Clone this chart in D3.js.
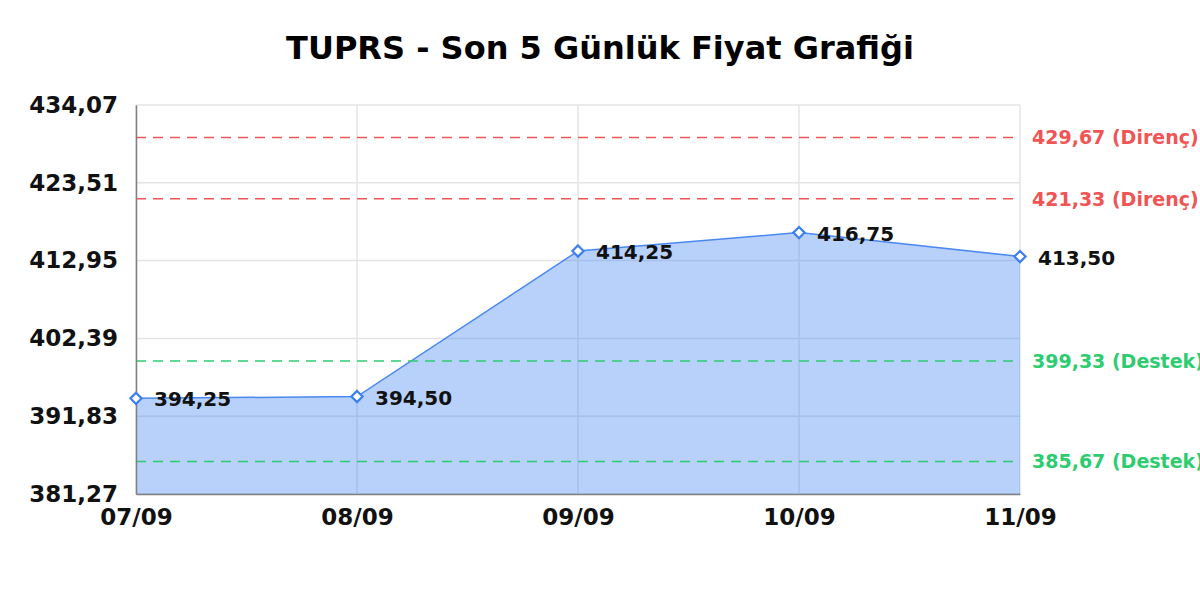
<!DOCTYPE html>
<html>
<head>
<meta charset="utf-8">
<script src="https://cdn.jsdelivr.net/npm/d3@7"></script>
<style>
  body { margin: 0; background: #fff; overflow: hidden; }
  svg, svg text { font-family: "DejaVu Sans", sans-serif; }
</style>
</head>
<body>
<svg id="chart" width="1200" height="600"></svg>
<script>
// data
const dates = ["07/09", "08/09", "09/09", "10/09", "11/09"];
const prices = [394.25, 394.50, 414.25, 416.75, 413.50];
const yTicks = [381.27, 391.83, 402.39, 412.95, 423.51, 434.07];
const resistance = [429.67, 421.33];
const support = [399.33, 385.67];

const fmt = v => v.toFixed(2).replace(".", ",");

const margin = {top: 105, right: 180, bottom: 106, left: 136},
	width = 1200 - margin.left - margin.right,
	height = 600 - margin.top - margin.bottom;

const svg = d3.select("#chart");

// title
svg.append("text")
	.attr("x", 600)
	.attr("y", 59)
	.attr("text-anchor", "middle")
	.style("font-size", "32px")
	.style("font-weight", "bold")
	.text("TUPRS - Son 5 Günlük Fiyat Grafiği");

const chart = svg.append("g")
	.attr("transform", "translate(" + margin.left + "," + margin.top + ")");

const xScale = d3.scalePoint()
	.domain(dates)
	.range([0, width]);

const yScale = d3.scaleLinear()
	.domain([yTicks[0], yTicks[yTicks.length - 1]])
	.range([height, 0]);

// grid
chart.append("g")
	.selectAll("line.h")
	.data(yTicks)
	.join("line")
	.attr("x1", 0).attr("x2", width)
	.attr("y1", d => yScale(d)).attr("y2", d => yScale(d))
	.attr("stroke", "#e4e4e4").attr("stroke-width", 1.5);

chart.append("g")
	.selectAll("line.v")
	.data(dates)
	.join("line")
	.attr("x1", d => xScale(d)).attr("x2", d => xScale(d))
	.attr("y1", 0).attr("y2", height)
	.attr("stroke", "#e4e4e4").attr("stroke-width", 1.5);

// area + line
const data = dates.map((d, i) => ({date: d, price: prices[i]}));

chart.append("path")
	.datum(data)
	.attr("fill", "rgba(66,133,244,0.38)")
	.attr("d", d3.area()
		.x(d => xScale(d.date))
		.y0(height)
		.y1(d => yScale(d.price)));

chart.append("path")
	.datum(data)
	.attr("fill", "none")
	.attr("stroke", "#4a88f0")
	.attr("stroke-width", 1.5)
	.attr("d", d3.line()
		.x(d => xScale(d.date))
		.y(d => yScale(d.price)));

// reference lines
function refLines(values, color, label) {
	const g = chart.append("g");
	g.selectAll("line")
		.data(values)
		.join("line")
		.attr("x1", 0).attr("x2", width)
		.attr("y1", d => yScale(d)).attr("y2", d => yScale(d))
		.attr("stroke", color)
		.attr("stroke-width", 1.5)
		.attr("stroke-dasharray", "10,7");
	g.selectAll("text")
		.data(values)
		.join("text")
		.attr("x", width + 12)
		.attr("y", d => yScale(d))
		.attr("dy", "0.36em")
		.attr("fill", color)
		.style("font-size", "19px")
		.style("font-weight", "bold")
		.text(d => fmt(d) + " (" + label + ")");
}
refLines(resistance, "#f05454", "Direnç");
refLines(support, "#2ecc71", "Destek");

// axes
const yAxis = chart.append("g")
	.call(d3.axisLeft(yScale).tickValues(yTicks).tickFormat(fmt).tickSize(0).tickPadding(18));
yAxis.attr("font-family", null);
yAxis.select(".domain").attr("stroke", "#808080").attr("stroke-width", 1.5);
yAxis.selectAll("text")
	.style("font-size", "23px")
	.style("font-weight", "bold")
	.attr("fill", "#111");

const xAxis = chart.append("g")
	.attr("transform", "translate(0," + height + ")")
	.call(d3.axisBottom(xScale).tickSize(0).tickPadding(15));
xAxis.attr("font-family", null);
xAxis.select(".domain").attr("stroke", "#808080").attr("stroke-width", 1.5);
xAxis.selectAll("text")
	.style("font-size", "23px")
	.style("font-weight", "bold")
	.attr("fill", "#111");

// markers
const diamond = d3.symbol().type(d3.symbolDiamond2).size(80);
chart.selectAll("path.pt")
	.data(data)
	.join("path")
	.attr("class", "pt")
	.attr("transform", d => "translate(" + xScale(d.date) + "," + yScale(d.price) + ")")
	.attr("d", diamond)
	.attr("fill", "#fff")
	.attr("stroke", "#3b7ff0")
	.attr("stroke-width", 2.2);

chart.selectAll("text.pt")
	.data(data)
	.join("text")
	.attr("class", "pt")
	.attr("x", d => xScale(d.date) + 18)
	.attr("y", d => yScale(d.price))
	.attr("dy", "0.4em")
	.attr("fill", "#111")
	.style("font-size", "20px")
	.style("font-weight", "bold")
	.text(d => fmt(d.price));
</script>
</body>
</html>
